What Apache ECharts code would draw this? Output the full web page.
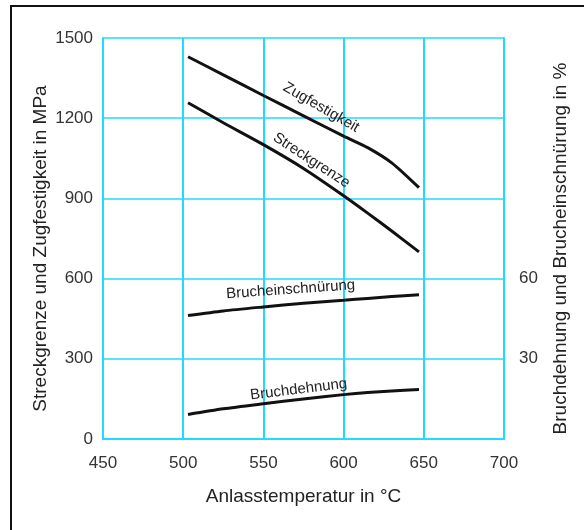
<!DOCTYPE html>
<html>
<head>
<meta charset="utf-8">
<script src="https://cdn.jsdelivr.net/npm/echarts@6/dist/echarts.min.js"></script>
<style>
  html, body { margin: 0; padding: 0; background: #fff; }
  #chart { width: 584px; height: 530px; }
</style>
</head>
<body>
<div id="chart"></div>
<script>
// Anlasstemperatur in °C
const temps = [503, 525, 550, 575, 600, 615, 630, 647]
// MPa (linke Achse)
const zugfestigkeit = [1430, 1362, 1285, 1209, 1133, 1090, 1033, 940]
const streckgrenze = [1258, 1183, 1101, 1012, 910, 845, 778, 700]
// % (rechte Achse)
const brucheinschnuerung = [46.2, 47.9, 49.4, 50.8, 51.9, 52.6, 53.3, 54.0]
const bruchdehnung = [9.2, 11.3, 13.2, 15.0, 16.6, 17.4, 18.0, 18.5]

const xTicks = [450, 500, 550, 600, 650, 700]
const leftTicks = [0, 300, 600, 900, 1200, 1500]
const rightTicks = [30, 60]

const FONT = '"Liberation Sans", Arial, sans-serif'
const CYAN = '#1fdcf8'

const pairs = (ys) => temps.map((t, i) => [t, ys[i]])

// Beschriftung direkt an der Kurve
function curveLabel(text, coord, rotate) {
  return {
    symbol: 'circle',
    symbolSize: 0,
    silent: true,
    label: {
      show: true,
      position: 'inside',
      formatter: text,
      rotate: rotate,
      color: '#222',
      fontSize: 15,
      fontFamily: FONT
    },
    data: [{ coord: coord }]
  }
}

function curve(name, ys, yAxisIndex, mark) {
  return {
    name: name,
    type: 'line',
    yAxisIndex: yAxisIndex,
    data: pairs(ys),
    smooth: 0.25,
    showSymbol: false,
    lineStyle: { color: '#111', width: 3 },
    markPoint: mark,
    z: 3
  }
}

const titleStyle = { fontSize: 19, color: '#222', fontFamily: FONT }
// Achsentitel etwas nach unten versetzt wie im Original
const vTitleStyle = Object.assign({}, titleStyle, { padding: [0, 20, 0, 0] })

const chart = echarts.init(document.getElementById('chart'), null, { renderer: 'canvas' })

chart.setOption({
  animation: false,
  backgroundColor: '#fff',
  textStyle: { fontFamily: FONT },
  graphic: [{
    type: 'rect',
    shape: { x: 11, y: 6, width: 640, height: 620 },
    style: { fill: 'none', stroke: '#111', lineWidth: 2 },
    silent: true
  }],
  grid: { left: 103, top: 38, width: 401, height: 401 },
  xAxis: {
    type: 'value',
    min: 450, max: 700, interval: 50,
    name: 'Anlasstemperatur in °C',
    nameLocation: 'middle',
    nameGap: 48,
    nameTextStyle: titleStyle,
    axisLine: { show: true, onZero: false, lineStyle: { color: CYAN, width: 2 } },
    axisTick: { show: false },
    axisLabel: {
      margin: 16, fontSize: 17, color: '#333', fontFamily: FONT,
      formatter: (v) => xTicks.includes(v) ? String(v) : ''
    },
    splitLine: { show: true, lineStyle: { color: CYAN, width: 2 } }
  },
  yAxis: [{
    type: 'value',
    position: 'left',
    min: 0, max: 1500, interval: 300,
    name: 'Streckgrenze und Zugfestigkeit in MPa',
    nameLocation: 'middle',
    nameGap: 53,
    nameMoveOverlap: false,
    nameTextStyle: vTitleStyle,
    axisLine: { show: true, lineStyle: { color: CYAN, width: 2 } },
    axisTick: { show: false },
    axisLabel: {
      margin: 10, fontSize: 17, color: '#333', fontFamily: FONT,
      formatter: (v) => leftTicks.includes(v) ? String(v) : ''
    },
    splitLine: { show: true, lineStyle: { color: CYAN, width: 1.5 } }
  }, {
    type: 'value',
    position: 'right',
    min: 0, max: 150, interval: 30,
    name: 'Bruchdehnung und Brucheinschnürung in %',
    nameLocation: 'middle',
    nameGap: 47,
    nameMoveOverlap: false,
    nameTextStyle: vTitleStyle,
    axisLine: { show: true, lineStyle: { color: CYAN, width: 2 } },
    axisTick: { show: false },
    axisLabel: {
      margin: 15, fontSize: 17, color: '#333', fontFamily: FONT,
      formatter: (v) => rightTicks.includes(v) ? String(v) : ''
    },
    splitLine: { show: false }
  }],
  series: [
    curve('Zugfestigkeit', zugfestigkeit, 0, curveLabel('Zugfestigkeit', [586, 1240], -30)),
    curve('Streckgrenze', streckgrenze, 0, curveLabel('Streckgrenze', [580, 1042], -33)),
    curve('Brucheinschnürung', brucheinschnuerung, 1, curveLabel('Brucheinschnürung', [567, 55.9], 4)),
    curve('Bruchdehnung', bruchdehnung, 1, curveLabel('Bruchdehnung', [572, 18.5], 7))
  ]
})
</script>
</body>
</html>
